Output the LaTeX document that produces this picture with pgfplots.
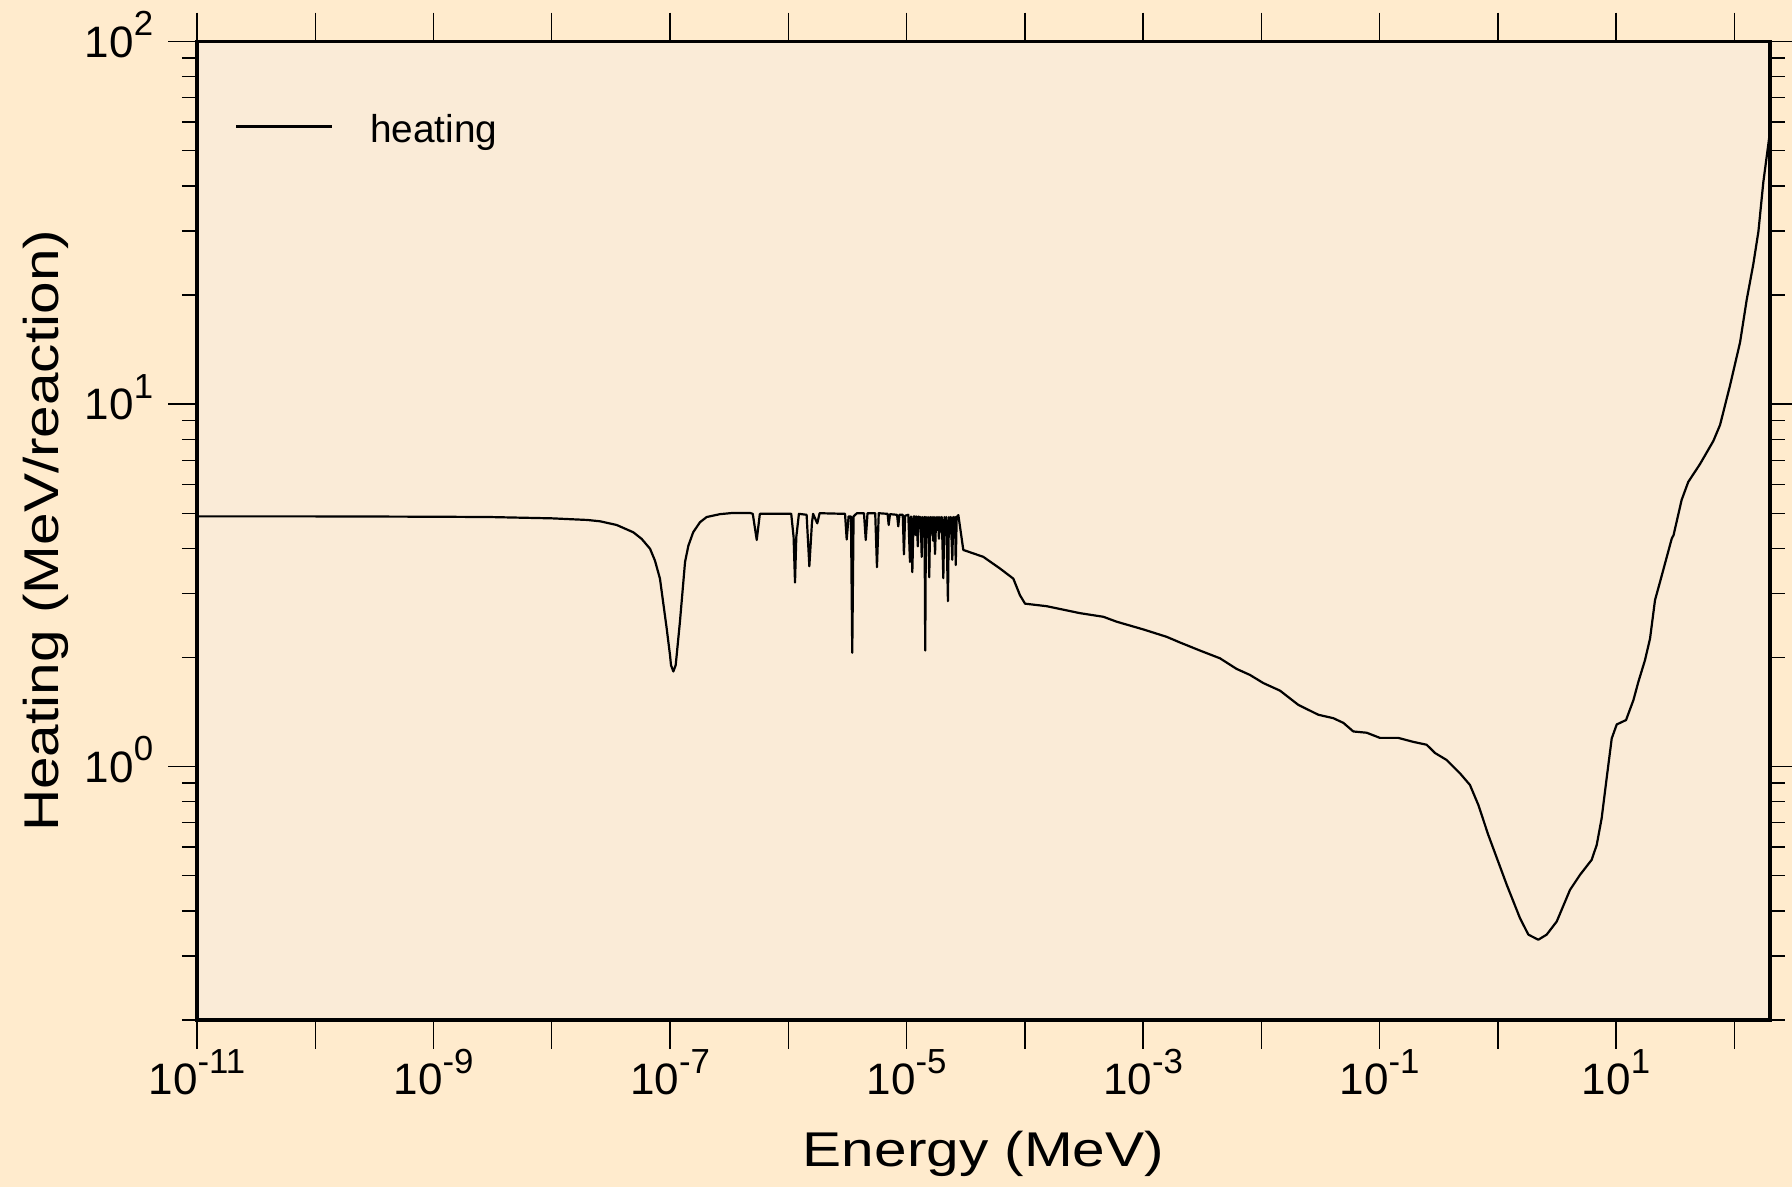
\documentclass[border=0pt]{standalone}
\usepackage{fontspec}
\setmainfont{Liberation Sans}
\newfontfamily\labelfont[FakeStretch=1.2]{Liberation Sans}
\usepackage{pgfplots}
\pgfplotsset{compat=1.18}

\definecolor{outerbg}{RGB}{255,235,205}
\definecolor{innerbg}{RGB}{250,235,215}
% decade label: 10 with raised exponent
\newcommand{\dec}[1]{10\raisebox{5.4pt}{\fontsize{8.7}{8.7}\selectfont #1}}

\begin{document}
\begin{tikzpicture}
\fill[outerbg] (-49.25pt,-41.75pt) rectangle (398.75pt,255pt);
\begin{axis}[
    xmode=log, ymode=log,
    scale only axis,
    width=393.25pt, height=244.6pt,
    xmin=1e-11, xmax=200, ymin=0.2, ymax=100,
    axis background/.style={fill=innerbg, draw=black, line width=0.8pt},
    tick style={line width=0.35pt, black},
    tick align=outside,
    major tick length=7.25pt, minor tick length=3.75pt,
    xtick={1e-11,1e-10,1e-9,1e-8,1e-7,1e-6,1e-5,1e-4,1e-3,1e-2,1e-1,1,10,100},
    xticklabels={\dec{-11},{},\dec{-9},{},\dec{-7},{},\dec{-5},{},\dec{-3},{},\dec{-1},{},\dec{1},{}},
    xminorticks=false,
    ytick={1,10,100},
    yticklabels={\dec{0},\dec{1},\dec{2}},
    minor ytick={0.2,0.3,0.4,0.5,0.6,0.7,0.8,0.9,2,3,4,5,6,7,8,9,20,30,40,50,60,70,80,90},
    ticklabel style={font=\fontsize{11}{11}\selectfont},
    xticklabel style={anchor=base, yshift=-11.5pt},
    yticklabel style={anchor=base east, inner sep=0pt, xshift=-3.5pt, yshift=-3.95pt},
    xlabel={Energy (MeV)},
    ylabel={Heating (MeV/reaction)},
    xlabel style={at={(axis description cs:0.5,-0.15004)}, anchor=base,
        font=\labelfont\fontsize{12.2}{12.2}\selectfont},
    ylabel style={at={(axis description cs:-0.0881,0.5)}, anchor=base,
        font=\labelfont\fontsize{12.2}{12.2}\selectfont},
    legend style={at={(axis description cs:0.02416,0.9082)}, anchor=west,
        draw=none, fill=none, inner sep=0pt, outer sep=0pt,
        cells={anchor=base west, inner sep=0pt},
        column sep=7.25pt, font=\fontsize{9.7}{9.7}\selectfont},
    legend image code/.code={\draw[#1] (0pt,4pt) -- (24pt,4pt);},
]
\addplot[black, line width=0.55pt, line join=round] coordinates {
    (1e-11,4.90) (1e-10,4.90) (1e-9,4.89) (3e-9,4.88) (1e-8,4.84) (2e-8,4.79)
    (2.56e-8,4.75) (3.54e-8,4.64) (4.89e-8,4.43) (5.75e-8,4.25) (6.78e-8,3.99)
    (7.46e-8,3.70) (8.22e-8,3.30) (9.38e-8,2.40) (1.0e-7,2.03) (1.019e-7,1.905)
    (1.067e-7,1.83) (1.117e-7,1.905) (1.213e-7,2.51) (1.34e-7,3.67) (1.43e-7,4.07)
    (1.57e-7,4.43) (1.79e-7,4.72) (2.04e-7,4.88) (2.64e-7,4.97)
    (3.43e-7,5.01) (4.74e-7,5.01) (5.01e-7,4.98) (5.41e-7,4.22) (5.75e-7,4.98)
    (1.059e-6,4.98) (1.109e-6,4.30) (1.140e-6,3.22) (1.169e-6,4.30) (1.230e-6,4.98)
    (1.429e-6,4.95) (1.507e-6,3.57) (1.585e-6,4.70) (1.622e-6,4.98) (1.758e-6,4.69)
    (1.841e-6,5.00)
    (3.020e-6,4.98) (3.119e-6,4.23) (3.236e-6,4.90) (3.388e-6,4.90) (3.475e-6,2.06)
    (3.565e-6,4.90) (3.802e-6,5.00)
    (4.365e-6,5.00) (4.519e-6,4.22) (4.677e-6,5.00)
    (5.433e-6,5.00) (5.623e-6,3.55) (5.821e-6,5.00)
    (6.918e-6,4.98) (7.063e-6,4.64) (7.244e-6,4.97)
    (8.318e-6,4.95) (8.511e-6,4.60) (8.710e-6,4.95)
    (9.290e-6,4.95) (9.506e-6,3.85) (9.727e-6,4.92)
    (1.035e-5,4.95) (1.069e-5,3.67) (1.091e-5,4.90) (1.119e-5,3.44) (1.148e-5,4.90)
    (1.175e-5,4.90) (1.197e-5,4.35) (1.219e-5,4.90) (1.245e-5,4.05) (1.268e-5,4.90)
    (1.294e-5,4.55) (1.318e-5,4.88) (1.343e-5,3.79) (1.368e-5,4.88) (1.393e-5,4.45)
    (1.419e-5,4.88) (1.439e-5,2.09) (1.459e-5,4.88) (1.493e-5,4.30) (1.521e-5,4.88)
    (1.556e-5,3.33) (1.585e-5,4.88) (1.614e-5,4.40) (1.644e-5,4.88) (1.675e-5,4.20)
    (1.706e-5,4.88) (1.742e-5,3.86) (1.778e-5,4.88) (1.811e-5,4.50) (1.845e-5,4.88)
    (1.879e-5,4.25) (1.914e-5,4.88) (1.950e-5,4.45) (1.986e-5,4.88) (2.046e-5,3.31)
    (2.089e-5,4.88) (2.128e-5,4.35) (2.168e-5,4.88) (2.239e-5,2.86) (2.280e-5,4.88)
    (2.323e-5,4.40) (2.366e-5,4.88) (2.438e-5,3.72) (2.483e-5,4.88) (2.529e-5,4.30)
    (2.570e-5,4.88) (2.606e-5,3.60) (2.655e-5,4.88) (2.742e-5,4.94)
    (3.020e-5,3.96) (4.457e-5,3.79) (6.166e-5,3.52) (7.998e-5,3.30) (9.099e-5,2.97)
    (1.005e-4,2.815) (1.531e-4,2.77) (2.931e-4,2.65) (4.613e-4,2.59) (5.984e-4,2.51)
    (1.005e-3,2.39) (1.585e-3,2.28) (2.051e-3,2.20) (3.027e-3,2.09) (4.467e-3,1.99)
    (6.180e-3,1.86) (8.017e-3,1.79) (1.040e-2,1.70) (1.439e-2,1.62) (2.056e-2,1.48)
    (3.034e-2,1.39) (4.064e-2,1.36) (4.943e-2,1.32) (5.998e-2,1.25) (7.780e-2,1.24)
    (0.1007,1.20) (0.1439,1.20) (0.1928,1.17) (0.2500,1.149) (0.2944,1.09)
    (0.3690,1.043) (0.4786,0.958) (0.5808,0.890) (0.6839,0.784) (0.8299,0.648)
    (1.189,0.472) (1.538,0.382) (1.811,0.344) (2.198,0.333) (2.588,0.344)
    (3.148,0.374) (4.074,0.457) (4.955,0.503) (6.209,0.553) (6.855,0.608)
    (7.551,0.721) (8.318,0.929) (9.183,1.196) (10.12,1.307) (12.13,1.344)
    (14.00,1.525) (15.42,1.713) (17.54,1.966) (19.36,2.255) (21.33,2.88)
    (23.50,3.23) (29.51,4.25) (30.20,4.32) (30.55,4.34) (35.81,5.44)
    (40.74,6.10) (51.17,6.83) (66.37,7.91) (75.68,8.76) (91.83,11.25)
    (111.7,14.8) (127.1,19.4) (144.5,24.3) (159.6,29.9) (175.8,41.0) (200,56.4)
};
\addlegendentry{heating}
\end{axis}
\pgfresetboundingbox
\path[use as bounding box] (-49.25pt,-41.75pt) rectangle (398.75pt,255pt);
\end{tikzpicture}
\end{document}
